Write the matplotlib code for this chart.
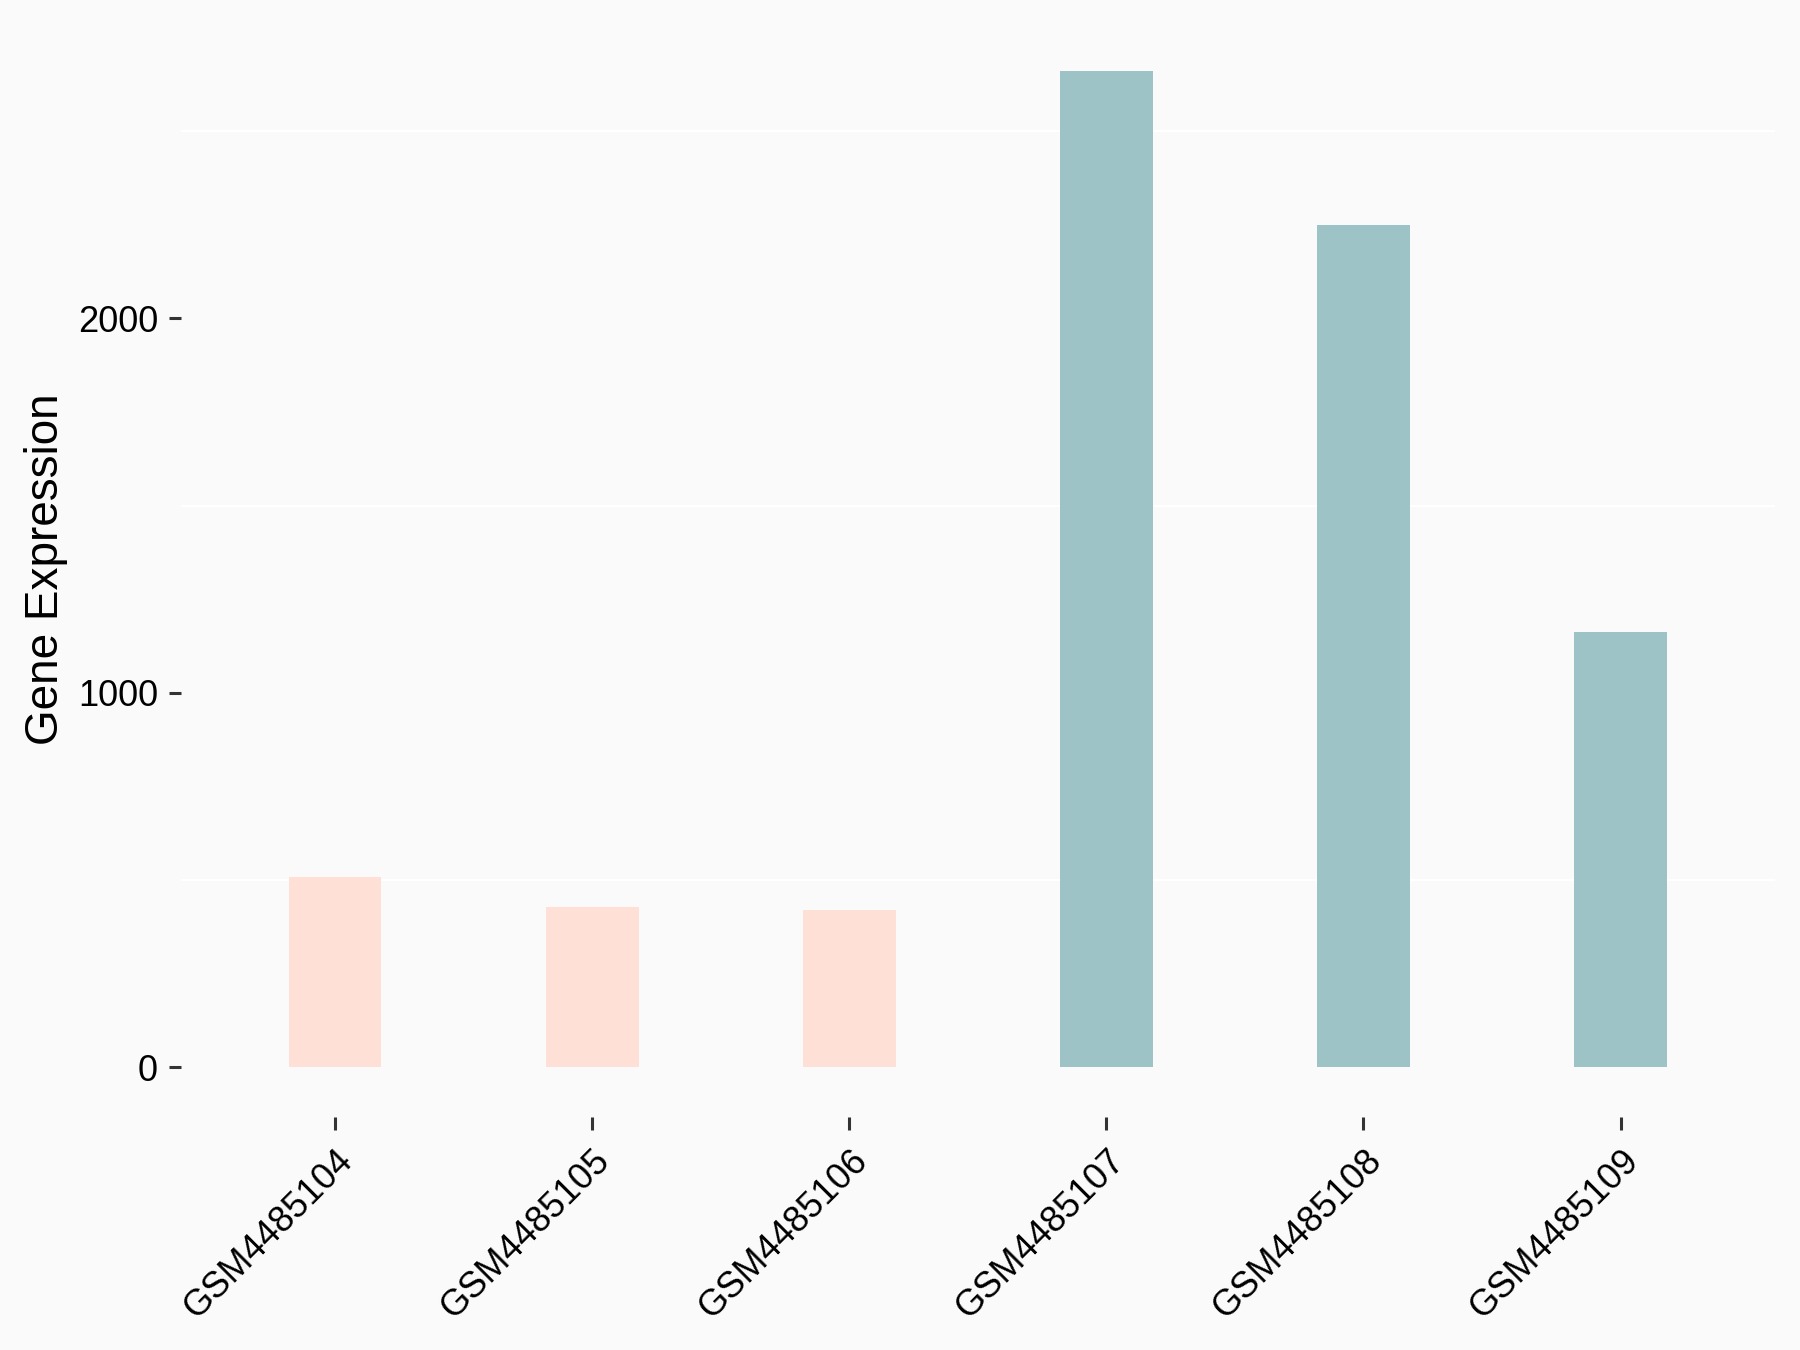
import matplotlib.pyplot as plt
from matplotlib.ticker import MultipleLocator

# 样本与表达量
samples = ["GSM4485104", "GSM4485105", "GSM4485106",
           "GSM4485107", "GSM4485108", "GSM4485109"]
expression = [509, 429, 420, 2660, 2249, 1162]
groups = ["control", "control", "control", "treat", "treat", "treat"]
group_colors = {"control": "#FFE0D6", "treat": "#9DC3C7"}

bg = "#FAFAFA"
plt.rcParams['font.family'] = ['Liberation Sans', 'DejaVu Sans']

fig = plt.figure(figsize=(18, 13.5), dpi=100, facecolor=bg)
ax = fig.add_axes([0.1005, 0.1726, 0.8855, 0.8114])
ax.set_facecolor(bg)

x = list(range(len(samples)))
colors = [group_colors[g] for g in groups]
ax.bar(x, expression, width=0.36, color=colors, zorder=2)

# 坐标范围 (ggplot 默认扩展)
ymax = max(expression)
ax.set_ylim(-0.05 * ymax, 1.05 * ymax)
ax.set_xlim(-0.6, len(samples) - 0.4)

ax.yaxis.set_major_locator(MultipleLocator(1000))
ax.yaxis.set_minor_locator(MultipleLocator(500))
ax.grid(False)
for v in [500, 1500, 2500]:
    ax.axhline(v, color="white", linewidth=1.5, zorder=1)

for s in ax.spines.values():
    s.set_visible(False)

ax.set_xticks(x)
ax.set_xticklabels(samples, rotation=45, ha="right", va="top",
                   rotation_mode="anchor", fontsize=26)
ax.tick_params(axis="y", which="major", labelsize=26, length=8.5,
               width=2.2, color="#333333", pad=8)
ax.tick_params(axis="y", which="minor", length=0)
ax.tick_params(axis="x", length=9, width=2.2, color="#333333", pad=10)

ax.set_ylabel("Gene Expression", fontsize=33)
ax.yaxis.set_label_coords(-0.071, 0.5)

fig.savefig("out.png", dpi=100, facecolor=bg)
